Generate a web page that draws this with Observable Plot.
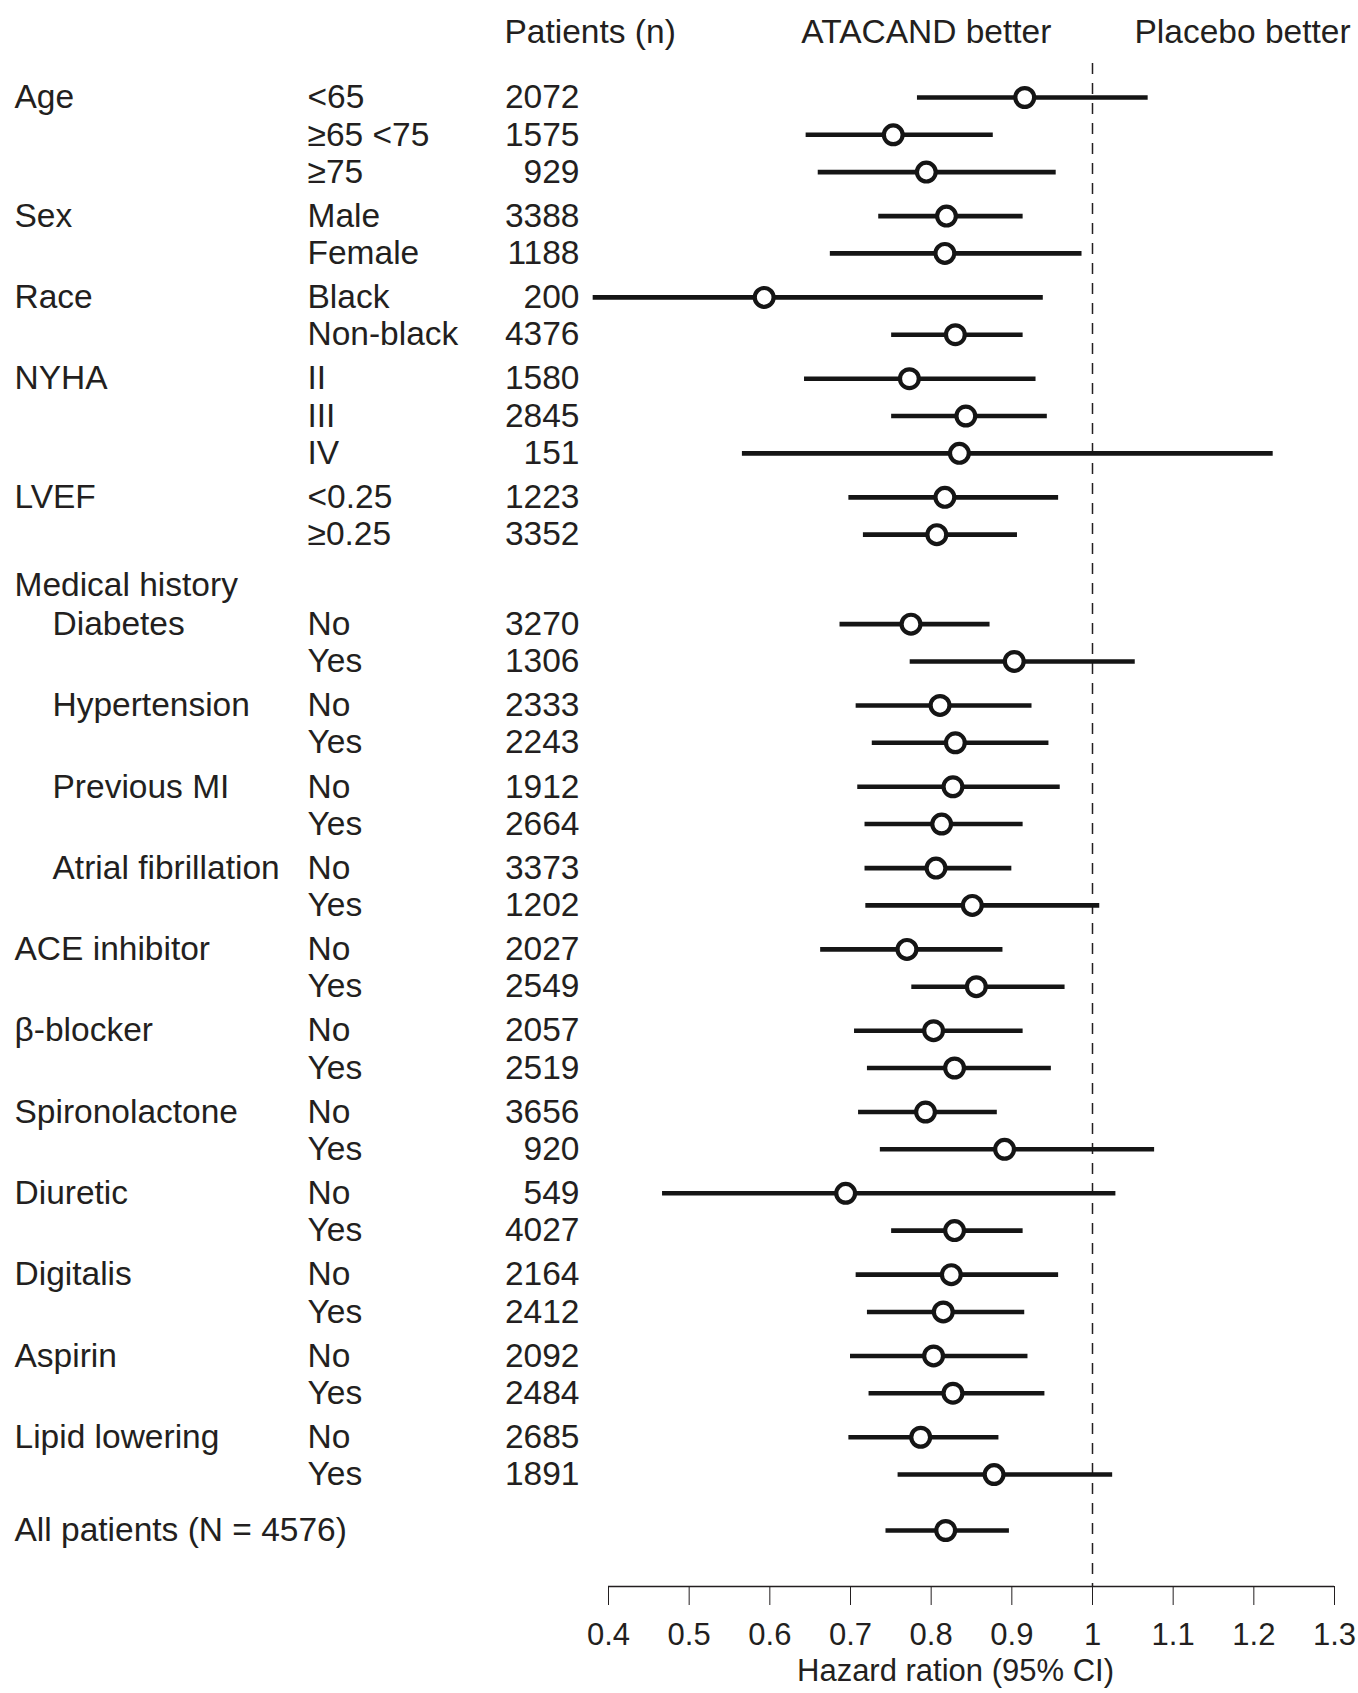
<!DOCTYPE html>
<html><head><meta charset="utf-8">
<script src="https://cdn.jsdelivr.net/npm/d3@7"></script>
<script src="https://cdn.jsdelivr.net/npm/@observablehq/plot@0.6"></script>
<style>body{margin:0;background:#fff}svg{display:block}</style>
</head><body><div id="chart"></div>
<script>
// ---- data ----
const groupLabels = ["Age","","","Sex","","Race","","NYHA","","","LVEF","","Medical history","Diabetes","","Hypertension","","Previous MI","","Atrial fibrillation","","ACE inhibitor","","β-blocker","","Spironolactone","","Diuretic","","Digitalis","","Aspirin","","Lipid lowering","","All patients (N = 4576)"];
const subLabels = ["<65","≥65 <75","≥75","Male","Female","Black","Non-black","II","III","IV","<0.25","≥0.25","","No","Yes","No","Yes","No","Yes","No","Yes","No","Yes","No","Yes","No","Yes","No","Yes","No","Yes","No","Yes","No","Yes",""];
const patients = [2072,1575,929,3388,1188,200,4376,1580,2845,151,1223,3352,null,3270,1306,2333,2243,1912,2664,3373,1202,2027,2549,2057,2519,3656,920,549,4027,2164,2412,2092,2484,2685,1891,null];
const hazardRatio = [0.916,0.753,0.794,0.819,0.817,0.593,0.830,0.773,0.843,0.835,0.817,0.807,null,0.775,0.903,0.811,0.830,0.827,0.813,0.806,0.851,0.770,0.856,0.803,0.829,0.793,0.891,0.694,0.829,0.825,0.815,0.803,0.827,0.787,0.878,0.818];
const ciLow = [0.783,0.645,0.660,0.735,0.675,0.381,0.751,0.643,0.751,0.566,0.698,0.716,null,0.687,0.774,0.707,0.727,0.709,0.718,0.718,0.719,0.663,0.776,0.705,0.721,0.710,0.737,0.467,0.751,0.707,0.721,0.700,0.723,0.698,0.759,0.744];
const ciHigh = [1.069,0.877,0.955,0.914,0.987,0.939,0.914,0.930,0.944,1.224,0.958,0.907,null,0.873,1.053,0.925,0.946,0.960,0.914,0.900,1.009,0.889,0.966,0.914,0.949,0.882,1.077,1.029,0.914,0.958,0.916,0.920,0.941,0.884,1.025,0.897];
const medicalHistoryItems = ["Diabetes","Hypertension","Previous MI","Atrial fibrillation"];
const xTicks = [0.4,0.5,0.6,0.7,0.8,0.9,1.0,1.1,1.2,1.3];
const headerPatients = "Patients (n)";
const headerLeft = "ATACAND better";
const headerRight = "Placebo better";
const axisTitle = "Hazard ration (95% CI)";

// ---- layout ----
const W = 1358, H = 1693;
const ML = 608, MR = 24;
const rowTop = 97, rowBottom = 1530, axisPx = 1586;
const FS = 33.5;
const ink = "#231f20";

const n = groupLabels.length;
const pos = [];
let acc = 0;
for (let i = 0; i < n; i++) {
  if (i > 0) {
    let step = 1;
    if (groupLabels[i] === "Medical history") step = 1.36;
    else if (groupLabels[i - 1] === "Medical history") step = 1.04;
    else if (i === n - 1) step = 1.5;
    else if (groupLabels[i] !== "") step = 1.18;
    acc += step;
  }
  pos.push(acc);
}
const yLast = pos[n - 1];
const unitPx = (rowBottom - rowTop) / yLast;
const toUnit = px => (px - rowTop) / unitPx;

const rows = d3.range(n).map(i => ({
  group: groupLabels[i], sub: subLabels[i], n: patients[i],
  hr: hazardRatio[i], lo: ciLow[i], hi: ciHigh[i], y: pos[i],
  indent: medicalHistoryItems.includes(groupLabels[i])
}));
const dataRows = rows.filter(d => d.hr != null);

const headerY = toUnit(32);
const dashTop = toUnit(63);
const axisUnit = toUnit(axisPx);

const chart = Plot.plot({
  width: W, height: H,
  marginLeft: ML, marginRight: MR, marginTop: 40, marginBottom: H - axisPx,
  style: {fontFamily: "'Liberation Sans', Arial, Helvetica, sans-serif", fontSize: FS + "px", color: ink, background: "#fff"},
  x: {domain: [0.4, 1.3]},
  y: {domain: [0, yLast], range: [rowTop, rowBottom], axis: null},
  marks: [
    Plot.axisX({anchor: "bottom", ticks: xTicks, tickSize: 19, tickPadding: 17, tickFormat: d => String(+d.toFixed(1)), fontSize: 31, label: null, stroke: ink, fill: ink}),
    Plot.ruleY([axisUnit], {x1: 0.4, x2: 1.3, stroke: ink, strokeWidth: 1.4}),
    Plot.ruleX([1], {y1: dashTop, y2: axisUnit, stroke: ink, strokeWidth: 1.5, strokeDasharray: "11,9"}),
    Plot.ruleY(dataRows, {y: "y", x1: "lo", x2: "hi", stroke: "#151515", strokeWidth: 4.6}),
    Plot.dot(dataRows, {x: "hr", y: "y", r: 9.4, fill: "white", stroke: "#151515", strokeWidth: 4.2}),
    Plot.text(rows.filter(d => d.group && !d.indent), {y: "y", text: "group", frameAnchor: "left", dx: 14 - ML, textAnchor: "start", fill: ink}),
    Plot.text(rows.filter(d => d.indent), {y: "y", text: "group", frameAnchor: "left", dx: 52 - ML, textAnchor: "start", fill: ink}),
    Plot.text(rows.filter(d => d.sub), {y: "y", text: "sub", frameAnchor: "left", dx: 307 - ML, textAnchor: "start", fill: ink}),
    Plot.text(rows.filter(d => d.n != null), {y: "y", text: d => String(d.n), frameAnchor: "left", dx: 579 - ML, textAnchor: "end", fill: ink}),
    Plot.text([headerPatients], {y: () => headerY, text: d => d, frameAnchor: "left", dx: 504 - ML, textAnchor: "start", fill: ink}),
    Plot.text([headerLeft], {y: () => headerY, x: () => 0.794, text: d => d, textAnchor: "middle", fill: ink}),
    Plot.text([headerRight], {y: () => headerY, x: () => 1.186, text: d => d, textAnchor: "middle", fill: ink}),
    Plot.text([axisTitle], {frameAnchor: "bottom", text: d => d, dy: 94, dx: -16, fontSize: 31, fill: ink})
  ]
});
document.getElementById("chart").append(chart);
</script>
</body></html>
